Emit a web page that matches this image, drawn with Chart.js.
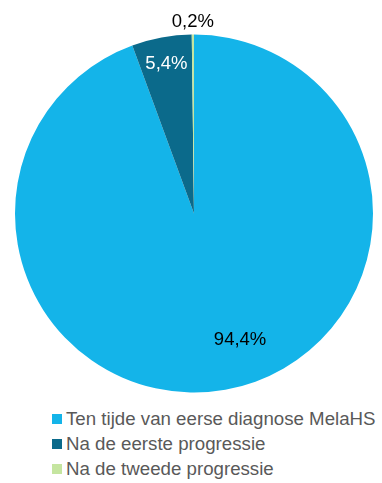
<!DOCTYPE html>
<html>
<head>
<meta charset="utf-8">
<script src="https://cdn.jsdelivr.net/npm/chart.js@4/dist/chart.umd.min.js"></script>
<style>
  html, body { margin: 0; padding: 0; background: #fff; }
  #wrap { position: relative; width: 382px; height: 483px; overflow: hidden; }
  #chartBox { position: absolute; left: 0; top: 0; width: 382px; height: 400px; }
  #legend { position: absolute; left: 52px; top: 406px; font-family: "Liberation Sans", Arial, sans-serif; font-size: 18.7px; color: #595959; }
  .item { height: 25px; line-height: 25px; white-space: nowrap; display: flex; align-items: center; }
  .sw { display: inline-block; width: 10px; height: 10px; margin-right: 4px; }
</style>
</head>
<body>
<div id="wrap">
  <div id="chartBox"><canvas id="c" width="382" height="400"></canvas></div>
  <div id="legend"></div>
</div>
<script>
const categories = [
  "Ten tijde van eerse diagnose MelaHS",
  "Na de eerste progressie",
  "Na de tweede progressie"
];
const shares = [94.4, 5.4, 0.2];
const sliceColors = ["#14B4E9", "#0B6A8B", "#C5E5A0"];

// Label placement per slice: radius fraction, angle shift (degrees), text colour
const labelStyle = [
  { r: 0.75, shift: -10, color: "#000000" },
  { r: 0.85, shift: 0, color: "#FFFFFF" },
  { r: 1.07, shift: 0, color: "#000000" }
];

const fmt = v => v.toFixed(1).replace(".", ",") + "%";

const pieLabels = {
  id: "pieLabels",
  afterDatasetsDraw(chart) {
    const ctx = chart.ctx;
    const meta = chart.getDatasetMeta(0);
    ctx.save();
    ctx.font = '18.5px "Liberation Sans", Arial, sans-serif';
    ctx.textAlign = "center";
    ctx.textBaseline = "middle";
    meta.data.forEach((arc, i) => {
      const p = arc.getProps(["x", "y", "startAngle", "endAngle", "outerRadius"], true);
      const st = labelStyle[i];
      const mid = (p.startAngle + p.endAngle) / 2 + st.shift * Math.PI / 180;
      const rr = p.outerRadius * st.r;
      ctx.fillStyle = st.color;
      ctx.fillText(fmt(shares[i]), p.x + Math.cos(mid) * rr, p.y + Math.sin(mid) * rr);
    });
    ctx.restore();
  }
};

new Chart(document.getElementById("c"), {
  type: "pie",
  data: {
    labels: categories,
    datasets: [{
      data: shares,
      backgroundColor: sliceColors,
      borderWidth: 0
    }]
  },
  options: {
    responsive: false,
    animation: false,
    layout: { padding: { left: 15, right: 9, top: 34, bottom: 7 } },
    plugins: {
      legend: { display: false },
      tooltip: { enabled: false }
    }
  },
  plugins: [pieLabels]
});

const legend = document.getElementById("legend");
categories.forEach((name, i) => {
  const row = document.createElement("div");
  row.className = "item";
  const sw = document.createElement("span");
  sw.className = "sw";
  sw.style.background = sliceColors[i];
  row.appendChild(sw);
  row.appendChild(document.createTextNode(name));
  legend.appendChild(row);
});
</script>
</body>
</html>
